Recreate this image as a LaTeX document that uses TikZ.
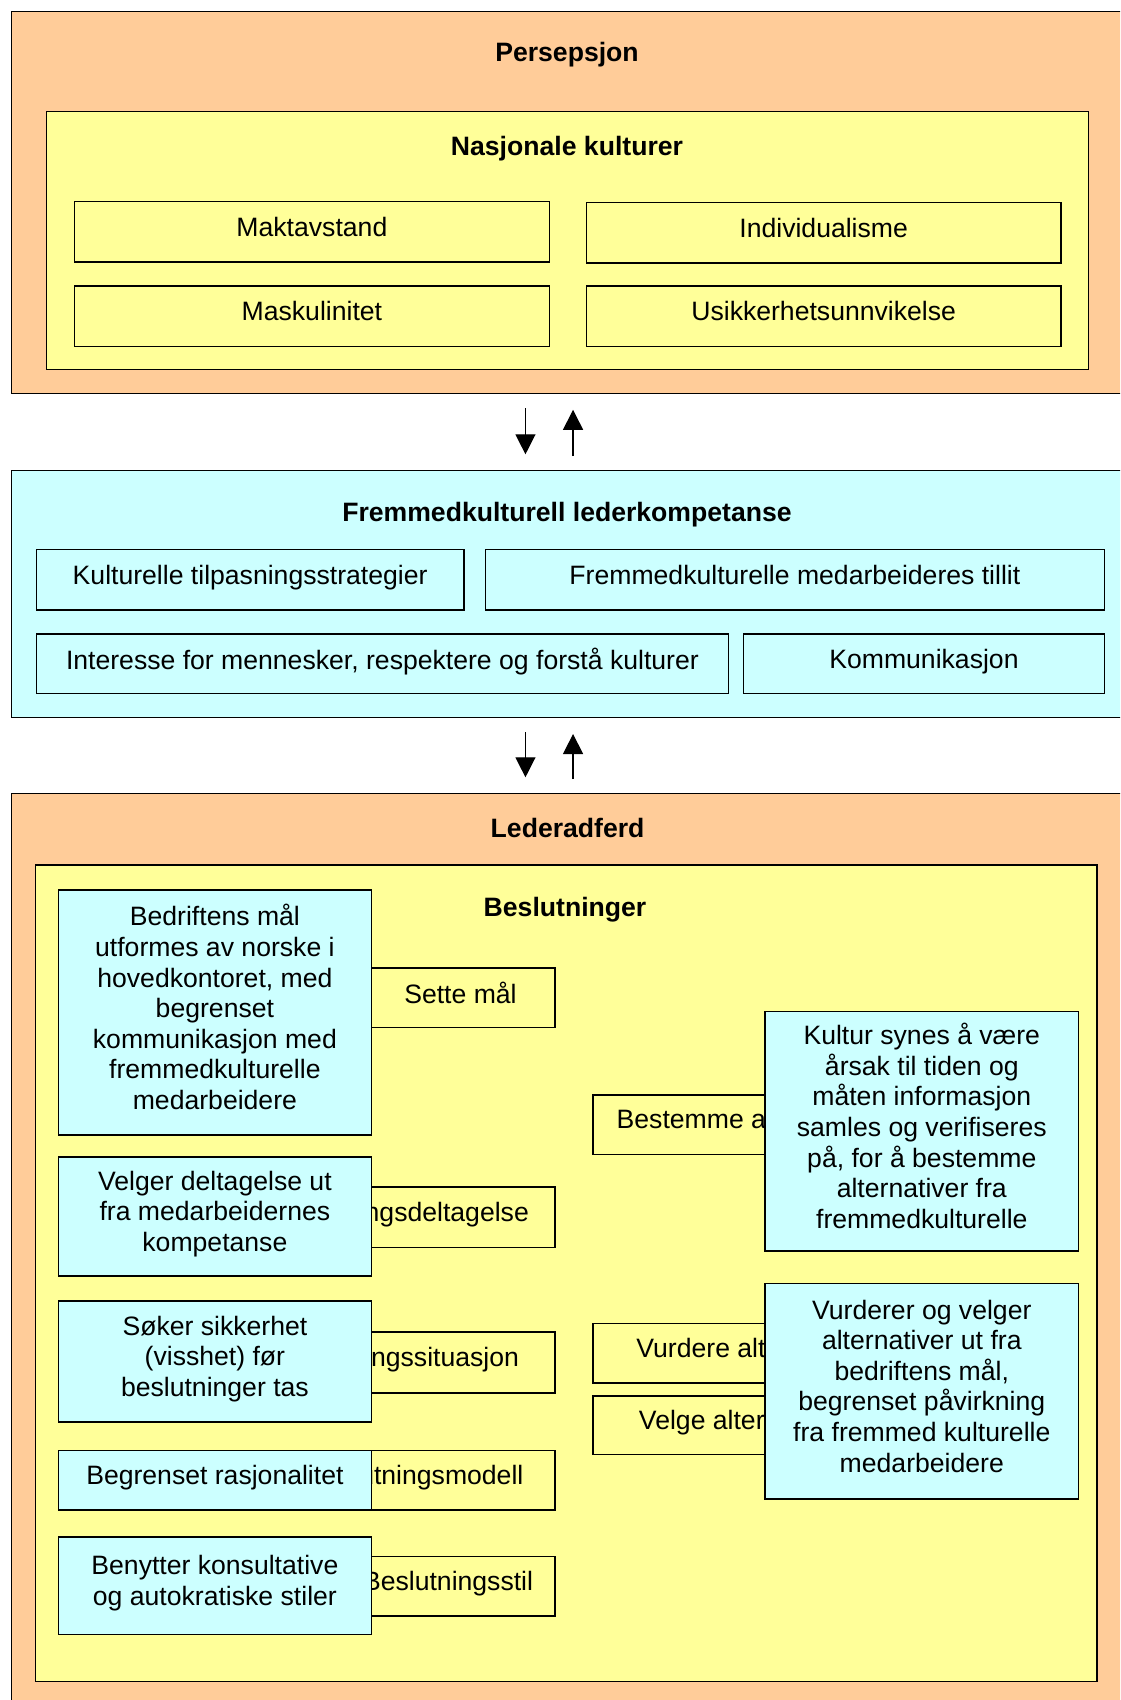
\documentclass[tikz,border=0pt]{standalone}
\usepackage{fontspec}
\setmainfont{Liberation Sans}
\usetikzlibrary{arrows.meta}
\definecolor{peachc}{HTML}{FFCC99}
\definecolor{yelc}{HTML}{FFFF99}
\definecolor{cyanc}{HTML}{CCFFFF}
\newcommand\dfs{\fontsize{26.6}{30.6}\selectfont}
\begin{document}
\begin{tikzpicture}[x=1pt,y=-1pt,
  bx/.style={draw=black, line width=1.5pt, inner sep=0pt, anchor=north west, align=center, font=\dfs, text depth=10.5pt},
  pe/.style={bx, fill=peachc},
  ye/.style={bx, fill=yelc},
  cy/.style={bx, fill=cyanc},
  ttl/.style={font=\dfs\bfseries, inner sep=0pt},
  arr/.style={line width=1.2pt, -{Triangle[length=20pt,width=20pt]}}]
\useasboundingbox (0,0) rectangle (1120,1700);
\clip (0,0) rectangle (1120,1700);
% Persepsjon
\node[pe, minimum width=1113pt, minimum height=381.7pt] (P) at (10.8,10.8) {};
\node[ttl] (Pt) at (567,54.3) {Persepsjon};
\node[ye, minimum width=1042pt, minimum height=258pt] (N) at (45.5,110.6) {};
\node[ttl] (Nt) at (567,148.6) {Nasjonale kulturer};
\node[ye, minimum width=474.9pt, minimum height=60.7pt] (n1) at (73.7,200.6) {Maktavstand};
\node[ye, minimum width=474.8pt, minimum height=60.7pt] (n2) at (585.5,201.7) {Individualisme};
\node[ye, minimum width=474.9pt, minimum height=60.8pt] (n3) at (73.7,285.1) {Maskulinitet};
\node[ye, minimum width=474.8pt, minimum height=60.8pt] (n4) at (585.5,285.1) {Usikkerhetsunnvikelse};
% Fremmedkulturell
\node[cy, minimum width=1113pt, minimum height=247.2pt] (F) at (10.8,469.5) {};
\node[ttl] (Ft) at (567,515) {Fremmedkulturell lederkompetanse};
\node[cy, minimum width=427.2pt, minimum height=60.7pt] (f1) at (35.8,548.6) {Kulturelle tilpasningsstrategier};
\node[cy, minimum width=619.1pt, minimum height=60.7pt] (f2) at (484.6,548.6) {Fremmedkulturelle medarbeideres tillit};
\node[cy, minimum width=691.7pt, minimum height=59.6pt] (f3) at (35.8,633.2) {Interesse for mennesker, respektere og forstå kulturer};
\node[cy, minimum width=361pt, minimum height=59.6pt] (f4) at (742.7,633.2) {Kommunikasjon};
% Lederadferd
\node[pe, minimum width=1113pt, minimum height=915pt] (L) at (10.8,792.5) {};
\node[ttl] (Lt) at (567.6,828.3) {Lederadferd};
\node[ye, minimum width=1061.4pt, minimum height=816.4pt] (B) at (34.7,864.1) {};
\node[ttl] (Bt) at (565,909.7) {Beslutninger};
% steps
\node[ye, minimum width=188.6pt, minimum height=59.6pt] (s1) at (365.4,967.1) {Sette mål};
\node[ye, minimum width=310.6pt, minimum height=60.7pt] (s2) at (243.4,1186.2) {Beslutningsdeltagelse};
\node[ye, minimum width=314pt, minimum height=60.8pt] (s3) at (240,1331.4) {Beslutningssituasjon};
\node[ye, minimum width=278.6pt, minimum height=59.5pt] (s4) at (275.4,1449.7) {Beslutningsmodell};
\node[ye, minimum width=213.4pt, minimum height=59.5pt] (s5) at (340.6,1555.9) {Beslutningsstil};
\node[ye, minimum width=314pt, minimum height=59.6pt] (s6) at (592,1094) {Bestemme alternativer};
\node[ye, minimum width=320pt, minimum height=59.6pt] (s7) at (592,1322.7) {Vurdere alternativer};
\node[ye, minimum width=298pt, minimum height=58.6pt] (s8) at (592,1395.3) {Velge alternativer};
% comments
\node[cy, minimum width=313.3pt, minimum height=245.1pt] (c1) at (57.5,889) {Bedriftens mål\\utformes av norske i\\hovedkontoret, med\\begrenset\\kommunikasjon med\\fremmedkulturelle\\medarbeidere};
\node[cy, minimum width=313.3pt, minimum height=118.8pt] (c2) at (57.5,1156.2) {Velger deltagelse ut\\fra medarbeidernes\\kompetanse};
\node[cy, minimum width=313.3pt, minimum height=121.4pt] (c3) at (57.5,1300) {Søker sikkerhet\\(visshet) før\\beslutninger tas};
\node[cy, minimum width=313.3pt, minimum height=59.5pt] (c4) at (57.5,1449.7) {Begrenset rasjonalitet};
\node[cy, minimum width=313.3pt, minimum height=97.6pt] (c5) at (57.5,1536.3) {Benytter konsultative\\og autokratiske stiler};
\node[cy, minimum width=313.3pt, minimum height=239.6pt] (c6) at (764.4,1010.5) {Kultur synes å være\\årsak til tiden og\\måten informasjon\\samles og verifiseres\\på, for å bestemme\\alternativer fra\\fremmedkulturelle};
\node[cy, minimum width=313.3pt, minimum height=215.8pt] (c7) at (764.4,1282.6) {Vurderer og velger\\alternativer ut fra\\bedriftens mål,\\begrenset påvirkning\\fra fremmed kulturelle\\medarbeidere};
% arrows
\draw[arr, shorten <=14.2pt, shorten >=15.2pt] ([xshift=-42.6pt]P.south) -- ([xshift=-42.6pt]F.north);
\draw[arr, shorten <=13.5pt, shorten >=15.8pt] ([xshift=5pt]F.north) -- ([xshift=5pt]P.south);
\draw[arr, shorten <=14.2pt, shorten >=15.2pt] ([xshift=-42.6pt]F.south) -- ([xshift=-42.6pt]L.north);
\draw[arr, shorten <=13.5pt, shorten >=15.8pt] ([xshift=5pt]L.north) -- ([xshift=5pt]F.south);
\end{tikzpicture}
\end{document}
